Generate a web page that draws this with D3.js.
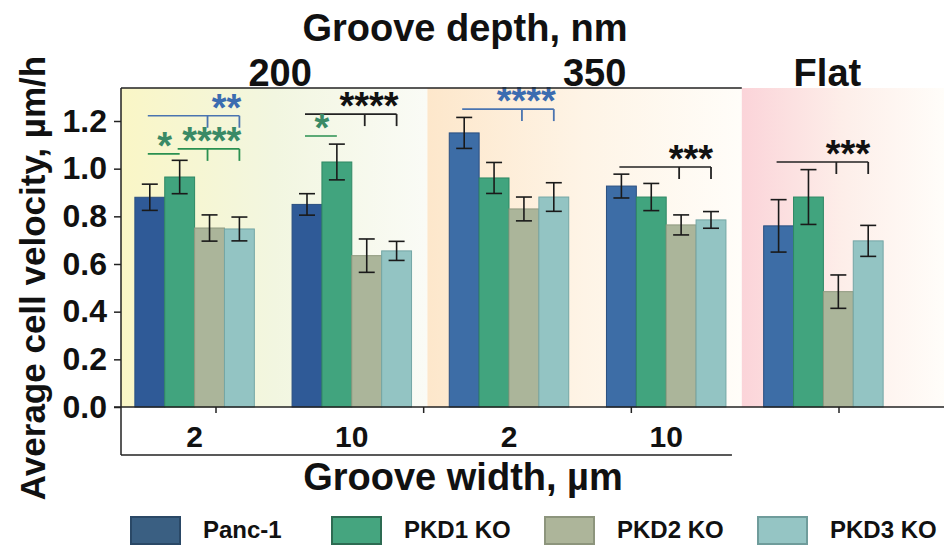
<!DOCTYPE html>
<html>
<head>
<meta charset="utf-8">
<script src="https://cdn.jsdelivr.net/npm/d3@7"></script>
<style>
  body { margin: 0; background: #fff; }
  svg { display: block; font-family: "Liberation Sans", Arial, sans-serif; font-weight: bold; }
</style>
</head>
<body>
<svg id="chart"></svg>
<script>
// groups along the x axis: depth | width
var groups = ["200|2", "200|10", "350|2", "350|10", "Flat"];
var groupDepth = ["200", "200", "350", "350", "Flat"];
var widthLabels = ["2", "10", "2", "10", ""];
var depthLabels = ["200", "350", "Flat"];
var series = ["Panc-1", "PKD1 KO", "PKD2 KO", "PKD3 KO"];

// mean velocity per group, one array per series
var panc1 = [0.88, 0.85, 1.15, 0.927, 0.76];
var pkd1 = [0.965, 1.028, 0.961, 0.881, 0.881];
var pkd2 = [0.751, 0.635, 0.831, 0.764, 0.484];
var pkd3 = [0.747, 0.655, 0.881, 0.785, 0.697];
// error bar half-lengths
var panc1Err = [0.055, 0.045, 0.065, 0.05, 0.11];
var pkd1Err = [0.07, 0.075, 0.065, 0.057, 0.115];
var pkd2Err = [0.055, 0.07, 0.05, 0.042, 0.07];
var pkd3Err = [0.05, 0.04, 0.06, 0.035, 0.065];

var yTicks = [0, 0.2, 0.4, 0.6, 0.8, 1.0, 1.2];
var widthTicks = [1, 2, 3, 4];

// significance brackets: group, first bar, compared bars, level (data units), stars, colour
var sigGroup = [0, 0, 0, 1, 1, 2, 3, 4];
var sigFrom = [0, 0, 1, 0, 0, 0, 0, 0];
var sigTo = [[2, 3], [1], [2, 3], [2, 3], [1], [2, 3], [2, 3], [2, 3]];
var sigLevel = [1.222, 1.062, 1.083, 1.229, 1.137, 1.25, 1.007, 1.028];
var sigLabel = ["**", "*", "****", "****", "*", "****", "***", "***"];
var sigKind = ["blue", "green", "green", "black", "green", "blue", "black", "black"];

var values = [panc1, pkd1, pkd2, pkd3];
var errors = [panc1Err, pkd1Err, pkd2Err, pkd3Err];

var W = 944, H = 545;
var plotLeft = 121, plotTop = 88, plotBottom = 407;

var fills = {"Panc-1": "#3d6da6", "PKD1 KO": "#41a47e", "PKD2 KO": "#abb59a", "PKD3 KO": "#93c4c3"};
var edges = {"Panc-1": "#2a4f80", "PKD1 KO": "#2f8864", "PKD2 KO": "#909a80", "PKD3 KO": "#74a6a5"};
var legendFill = {"Panc-1": "#3a5f82", "PKD1 KO": "#45a57f", "PKD2 KO": "#adb59a", "PKD3 KO": "#95c5c4"};
var legendEdge = {"Panc-1": "#2a4866", "PKD1 KO": "#2d6b52", "PKD2 KO": "#8d957d", "PKD3 KO": "#6f9c9b"};
var starColor = {blue: "#3b6cb0", green: "#3a8a66", black: "#111"};
var lineColor = {blue: "#4a74b0", green: "#2a9050", black: "#222"};

var svg = d3.select("#chart").attr("width", W).attr("height", H);

var y = d3.scaleLinear().domain([0, 1.2]).range([plotBottom, 121]);
var x = d3.scaleBand().domain(groups).range([116, 902]).paddingInner(0.24).paddingOuter(0.12);
var xs = d3.scaleBand().domain(series).range([0, x.bandwidth()]);
var gap = x.step() - x.bandwidth();

// section backgrounds
var bgStops = {
  "200": ["#faf6c6", "#f2f6e0", "#fafbf6"],
  "350": ["#fde7cb", "#fef4e6", "#fffdf9"],
  "Flat": ["#fbd4d9", "#fdeee9", "#fffdf9"]
};
var defs = svg.append("defs");
depthLabels.forEach(function(d, i) {
  var g = defs.append("linearGradient").attr("id", "bg" + i);
  bgStops[d].forEach(function(c, j) {
    g.append("stop").attr("offset", (j * 50) + "%").attr("stop-color", c);
  });
});

function sectionExtent(d) {
  var idx = groups.filter(function(g, i) { return groupDepth[i] === d; }).map(function(g) { return groups.indexOf(g); });
  var first = idx[0], last = idx[idx.length - 1];
  var x0 = first === 0 ? plotLeft : x(groups[first]) - gap / 2 - 3;
  var x1 = last === groups.length - 1 ? W : x(groups[last]) + x.bandwidth() + gap / 2 - 3;
  return [x0, x1];
}

depthLabels.forEach(function(d, i) {
  var e = sectionExtent(d);
  svg.append("rect")
    .attr("x", e[0]).attr("y", plotTop)
    .attr("width", e[1] - e[0]).attr("height", plotBottom - plotTop)
    .attr("fill", "url(#bg" + i + ")");
});

// bars
var barData = [];
groups.forEach(function(g, gi) {
  series.forEach(function(s, si) {
    barData.push({g: g, gi: gi, s: s, v: values[si][gi], e: errors[si][gi]});
  });
});

svg.append("g").selectAll("rect").data(barData).enter().append("rect")
  .attr("x", function(d) { return x(d.g) + xs(d.s); })
  .attr("y", function(d) { return y(d.v); })
  .attr("width", xs.bandwidth())
  .attr("height", function(d) { return y(0) - y(d.v); })
  .attr("fill", function(d) { return (d.s === "Panc-1" && groupDepth[d.gi] === "200") ? "#2f5a97" : fills[d.s]; })
  .attr("stroke", function(d) { return edges[d.s]; })
  .attr("stroke-width", 1);

// error bars
var eb = svg.append("g").attr("stroke", "#1a1a1a").attr("stroke-width", 1.6);
barData.forEach(function(d) {
  var cx = x(d.g) + xs(d.s) + xs.bandwidth() / 2;
  eb.append("line").attr("x1", cx).attr("x2", cx).attr("y1", y(d.v + d.e)).attr("y2", y(d.v - d.e));
  eb.append("line").attr("x1", cx - 8).attr("x2", cx + 8).attr("y1", y(d.v + d.e)).attr("y2", y(d.v + d.e));
  eb.append("line").attr("x1", cx - 8).attr("x2", cx + 8).attr("y1", y(d.v - d.e)).attr("y2", y(d.v - d.e));
});

// significance brackets
function barCenter(gi, si) { return x(groups[gi]) + xs(series[si]) + xs.bandwidth() / 2; }
var sg = svg.append("g");
sigGroup.forEach(function(gi, k) {
  var ly = y(sigLevel[k]);
  var x0 = barCenter(gi, sigFrom[k]);
  var targets = sigTo[k];
  var x1 = barCenter(gi, targets[targets.length - 1]);
  var col = lineColor[sigKind[k]];
  sg.append("line").attr("x1", x0 - 2).attr("x2", x1).attr("y1", ly).attr("y2", ly)
    .attr("stroke", col).attr("stroke-width", 1.6);
  if (targets.length > 1) {
    targets.forEach(function(t) {
      var tx = barCenter(gi, t) - (t === targets[targets.length - 1] ? 0 : 2);
      sg.append("line").attr("x1", tx).attr("x2", tx).attr("y1", ly).attr("y2", ly + 12)
        .attr("stroke", col).attr("stroke-width", 1.8);
    });
    sg.append("text").attr("x", x1 + 2).attr("y", ly + 5)
      .attr("text-anchor", "end").attr("font-size", 38)
      .attr("fill", starColor[sigKind[k]]).text(sigLabel[k]);
  } else {
    sg.append("text").attr("x", (x0 + x1) / 2).attr("y", ly + 5)
      .attr("text-anchor", "middle").attr("font-size", 38)
      .attr("fill", starColor[sigKind[k]]).text(sigLabel[k]);
  }
});

// y axis
var yAxis = svg.append("g").attr("transform", "translate(" + plotLeft + ",0)")
  .call(d3.axisLeft(y).tickValues(yTicks).tickFormat(d3.format(".1f")).tickSize(7).tickPadding(7));
yAxis.select(".domain").remove();
yAxis.selectAll(".tick line").attr("stroke", "#222").attr("stroke-width", 1.5);
yAxis.selectAll(".tick text").attr("font-size", 32).attr("font-family", "Liberation Sans, Arial, sans-serif")
  .attr("font-weight", "bold").attr("fill", "#111");

svg.append("line").attr("x1", plotLeft).attr("x2", plotLeft).attr("y1", plotTop).attr("y2", 455)
  .attr("stroke", "#222").attr("stroke-width", 1.5);

// x axis line and ticks
svg.append("line").attr("x1", plotLeft - 7).attr("x2", W).attr("y1", plotBottom).attr("y2", plotBottom)
  .attr("stroke", "#222").attr("stroke-width", 1.5);
var tickScale = d3.scaleLinear().domain([1, 4]).range([216, 839]);
svg.append("g").selectAll("line").data(widthTicks).enter().append("line")
  .attr("x1", function(d) { return tickScale(d); }).attr("x2", function(d) { return tickScale(d); })
  .attr("y1", plotBottom).attr("y2", plotBottom + 6)
  .attr("stroke", "#222").attr("stroke-width", 1.5);

// groove width labels
svg.append("g").selectAll("text").data(groups).enter().append("text")
  .attr("x", function(d) { return x(d) + x.bandwidth() / 2; })
  .attr("y", 447).attr("text-anchor", "middle").attr("font-size", 30).attr("fill", "#111")
  .text(function(d, i) { return widthLabels[i]; });

// bottom bracket under grooved groups
svg.append("line").attr("x1", plotLeft).attr("x2", x(groups[3]) + x.bandwidth() + 6)
  .attr("y1", 455).attr("y2", 455).attr("stroke", "#222").attr("stroke-width", 1.5);

// top line over grooved groups
svg.append("line").attr("x1", plotLeft).attr("x2", sectionExtent("350")[1])
  .attr("y1", plotTop).attr("y2", plotTop).attr("stroke", "#222").attr("stroke-width", 1.5);

// depth labels
depthLabels.forEach(function(d) {
  var idx = groups.filter(function(g, i) { return groupDepth[i] === d; });
  var cx = d === "Flat" ? x(idx[0]) + x.bandwidth() / 2 + 4 : (x(idx[0]) + x(idx[idx.length - 1]) + x.bandwidth()) / 2 + 7;
  svg.append("text").attr("x", cx).attr("y", 86).attr("text-anchor", "middle")
    .attr("font-size", 38).attr("fill", "#111").text(d);
});

// titles
svg.append("text").attr("x", 465).attr("y", 41).attr("text-anchor", "middle")
  .attr("font-size", 38).attr("fill", "#111").text("Groove depth, nm");
svg.append("text").attr("x", 463).attr("y", 490).attr("text-anchor", "middle")
  .attr("font-size", 38).attr("fill", "#111").text("Groove width, µm");
svg.append("text").attr("transform", "translate(45,278) rotate(-90)").attr("text-anchor", "middle")
  .attr("font-size", 35).attr("fill", "#111").text("Average cell velocity, µm/h");

// legend
var lx = d3.scalePoint().domain(series).range([130, 757]);
var leg = svg.append("g").selectAll("g").data(series).enter().append("g")
  .attr("transform", function(d, i) { return "translate(" + (lx(d) - (i === 1 ? 8 : i === 2 ? 4 : 0)) + ",516)"; });
leg.append("rect").attr("x", 1).attr("y", 1).attr("width", 49).attr("height", 27)
  .attr("fill", function(d) { return legendFill[d]; })
  .attr("stroke", function(d) { return legendEdge[d]; }).attr("stroke-width", 2);
leg.append("text").attr("x", 73).attr("y", 22).attr("font-size", 24).attr("fill", "#111")
  .text(function(d) { return d; });
</script>
</body>
</html>
